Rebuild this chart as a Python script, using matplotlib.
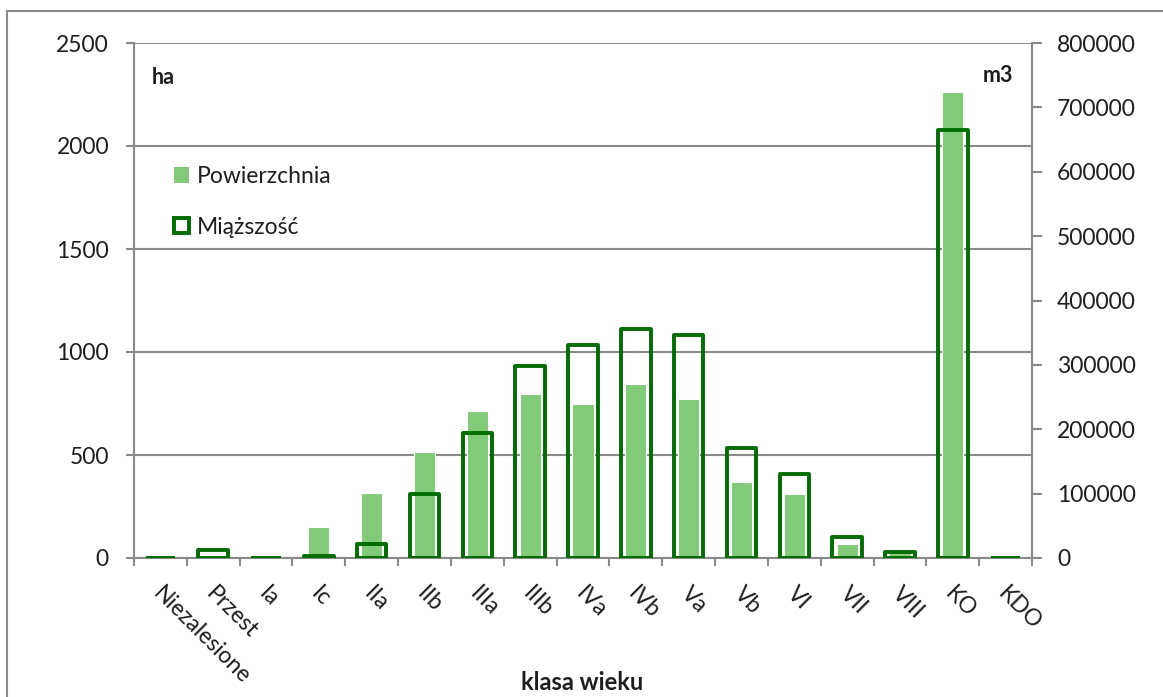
import matplotlib
matplotlib.use("Agg")
import matplotlib.pyplot as plt
from matplotlib.patches import Patch
from matplotlib.lines import Line2D
import matplotlib.transforms as mtransforms
import numpy as np

categories = ["Niezalesione", "Przest", "Ia", "Ic", "IIa", "IIb", "IIIa", "IIIb",
              "IVa", "IVb", "Va", "Vb", "VI", "VII", "VIII", "KO", "KDO"]
powierzchnia = [3, 8, 3, 150, 316, 515, 714, 796, 748, 845, 772, 369, 311, 68, 24, 2261, 3]
miazszosc = [500, 12000, 500, 3500, 22000, 100000, 194000, 298000, 331000, 356000,
             346000, 171000, 130000, 32000, 10000, 665000, 300]
left_ticks = [0, 500, 1000, 1500, 2000, 2500]
right_ticks = [0, 100000, 200000, 300000, 400000, 500000, 600000, 700000, 800000]

FONT = "Lato"
plt.rcParams["font.family"] = [FONT, "DejaVu Sans"]
TXT = "#1e1e1e"
GRID = "#8a8a8a"
LIGHT = "#80ca78"
DARK = "#006d00"
FS = 16.5

W, H = 1163, 697
fig = plt.figure(figsize=(W / 100, H / 100), dpi=100)
ax = fig.add_axes([134 / W, (H - 558) / H, (1032 - 134) / W, (558 - 43) / H])
ax2 = ax.twinx()

x = np.arange(len(categories))
ax.bar(x, powierzchnia, width=0.40, color=LIGHT, edgecolor="white", linewidth=0.8, zorder=3)
ax2.bar(x, miazszosc, width=0.56, facecolor="none", edgecolor=DARK, linewidth=2.8,
        joinstyle="round", zorder=3)

ax.set_xlim(-0.5, len(categories) - 0.5)
ax.set_ylim(0, 2500)
ax2.set_ylim(0, 800000)
ax.set_yticks(left_ticks)
ax2.set_yticks(right_ticks)
ax.set_yticklabels([str(v) for v in left_ticks])
ax2.set_yticklabels([str(v) for v in right_ticks])

ax.yaxis.grid(True, color=GRID, linewidth=1.5, zorder=0)
ax.set_axisbelow(True)

ax.set_xticks(np.arange(-0.5, len(categories), 1.0))
ax.set_xticklabels([])
for a in (ax, ax2):
    for s in a.spines.values():
        s.set_visible(False)
ax.spines["left"].set_visible(True)
ax.spines["bottom"].set_visible(True)
ax2.spines["right"].set_visible(True)
for s in (ax.spines["left"], ax.spines["bottom"], ax2.spines["right"]):
    s.set_color(GRID)
    s.set_linewidth(1.5)

ax.tick_params(axis="x", length=6, width=1.5, color=GRID, direction="out")
ax.tick_params(axis="y", length=6, width=1.5, color=GRID, direction="out",
               labelsize=FS, labelcolor=TXT, pad=12)
ax2.tick_params(axis="y", length=7, width=1.5, color=GRID, direction="out",
                labelsize=FS, labelcolor=TXT, pad=11)

# rotated category labels
for xi, lab in zip(x, categories):
    off = mtransforms.ScaledTranslation(-4 / 100, -32 / 100, fig.dpi_scale_trans)
    ax.text(xi, 0, lab, transform=ax.get_xaxis_transform() + off, rotation=-45,
            rotation_mode="anchor", ha="left", va="center", fontsize=FS, color=TXT)

fig.text(582 / W, 1 - 683 / H, "klasa wieku", ha="center", va="center",
         fontsize=17, fontweight="bold", color=TXT)
fig.text(152 / W, 1 - 77 / H, "ha", ha="left", va="center", fontsize=15.5,
         fontweight="bold", color=TXT)
fig.text(1013 / W, 1 - 76 / H, "m3", ha="right", va="center", fontsize=15.5,
         fontweight="bold", color=TXT)

handles = [Patch(facecolor=LIGHT, edgecolor="none"),
           Patch(facecolor="white", edgecolor=DARK, linewidth=2.8)]
leg = ax.legend(handles, ["Powierzchnia", "Miąższość"], loc="upper left",
                bbox_to_anchor=(174 / W, 1 - 166 / H), bbox_transform=fig.transFigure,
                frameon=False, fontsize=FS, handlelength=0.65, handleheight=0.65,
                handletextpad=0.35, labelspacing=1.3, borderaxespad=0, borderpad=0)
for t in leg.get_texts():
    t.set_color(TXT)

# outer chart-area border
fig.add_artist(Line2D([7 / W, 7 / W], [0, 1 - 11 / H], transform=fig.transFigure,
                      color=GRID, linewidth=1.5))
fig.add_artist(Line2D([7 / W, 1], [1 - 11 / H, 1 - 11 / H], transform=fig.transFigure,
                      color=GRID, linewidth=1.5))

fig.savefig("out.png", dpi=100)
